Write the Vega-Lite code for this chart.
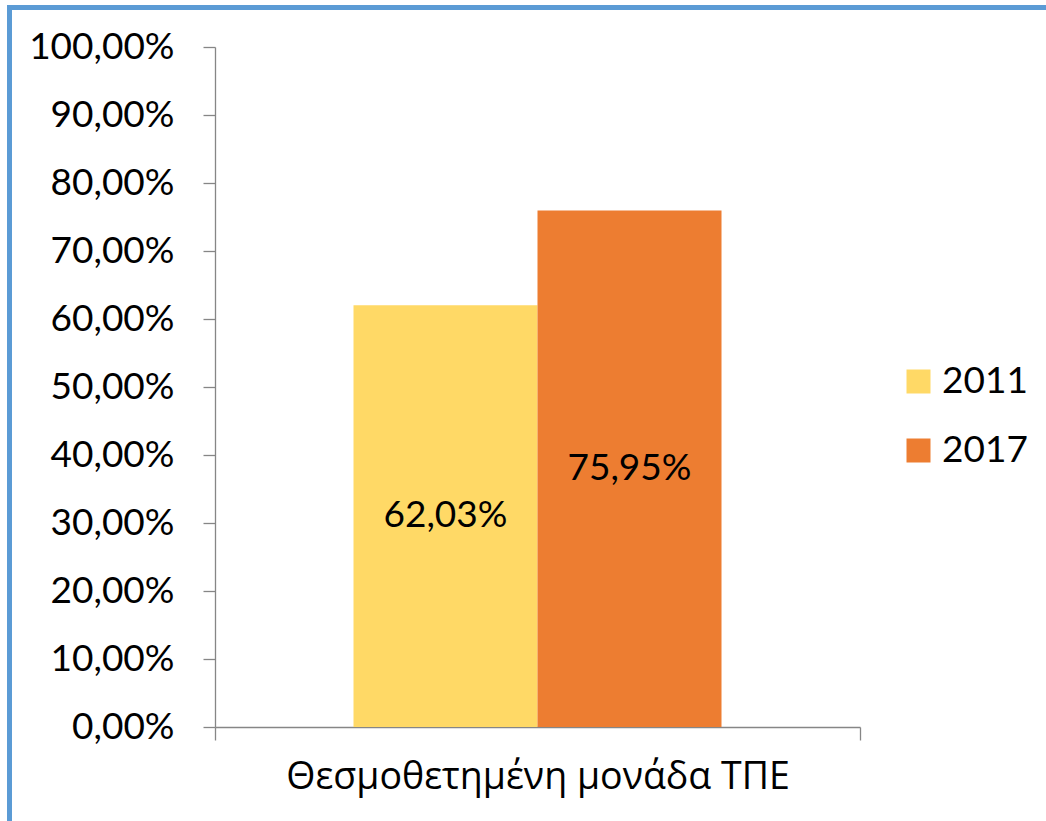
{
  "$schema": "https://vega.github.io/schema/vega-lite/v6.json",
  "width": 645,
  "height": 680,
  "autosize": {"type": "none"},
  "padding": {"left": 215, "top": 47, "right": 186, "bottom": 94},
  "background": "white",
  "config": {
    "locale": {"number": {"decimal": ",", "thousands": ".", "grouping": [3], "currency": ["", " €"]}},
    "view": {"stroke": null},
    "font": "Lato"
  },
  "data": {"values": [
    {"category": "Θεσμοθετημένη μονάδα ΤΠΕ", "year": "2011", "value": 0.6203},
    {"category": "Θεσμοθετημένη μονάδα ΤΠΕ", "year": "2017", "value": 0.7595}
  ]},
  "layer": [
    {
      "mark": {"type": "bar"},
      "encoding": {
        "x": {"field": "category", "type": "nominal", "scale": {"paddingInner": 0, "paddingOuter": 0}, "axis": null},
        "xOffset": {"field": "year", "type": "nominal", "scale": {"paddingInner": 0, "paddingOuter": 0.7527}},
        "y": {"field": "value", "type": "quantitative", "scale": {"domain": [0, 1]},
          "axis": {"title": null, "values": [0, 0.1, 0.2, 0.3, 0.4, 0.5, 0.6, 0.7, 0.8, 0.9, 1], "format": ".2%",
            "grid": false, "domainColor": "#868686", "domainWidth": 1.3, "tickColor": "#868686", "tickWidth": 1.3, "tickSize": 12,
            "labelPadding": 29, "labelFontSize": 37, "labelColor": "black", "labelFont": "Lato"}},
        "color": {"field": "year", "type": "nominal",
          "scale": {"domain": ["2011", "2017"], "range": ["#FFD966", "#ED7D31"]},
          "legend": {"orient": "none", "legendX": 685, "legendY": 316, "title": null, "symbolType": "square",
            "symbolSize": 576, "symbolStrokeWidth": 0, "labelFontSize": 37, "labelColor": "black", "labelOffset": 5,
            "rowPadding": 31, "padding": 0, "labelFont": "Lato"}}
      }
    },
    {
      "transform": [{"calculate": "datum.value / 2", "as": "mid"}],
      "mark": {"type": "text", "fontSize": 37, "color": "black", "font": "Lato"},
      "encoding": {
        "x": {"field": "category", "type": "nominal", "scale": {"paddingInner": 0, "paddingOuter": 0}, "axis": null},
        "xOffset": {"field": "year", "type": "nominal", "scale": {"paddingInner": 0, "paddingOuter": 0.7527}},
        "y": {"field": "mid", "type": "quantitative"},
        "text": {"field": "value", "type": "quantitative", "format": ".2%"}
      }
    },
    {
      "data": {"values": [{}]},
      "mark": {"type": "rect", "fill": "transparent", "stroke": "#5B9BD5", "strokeWidth": 5, "clip": false},
      "encoding": {
        "x": {"datum": -0.3186, "type": "quantitative", "scale": {"domain": [0, 1]},
          "axis": {"values": [0, 1], "labels": false, "grid": false, "title": "Θεσμοθετημένη μονάδα ΤΠΕ",
            "domainColor": "#868686", "domainWidth": 1.3, "tickColor": "#868686", "tickWidth": 1.3, "tickSize": 13,
            "titleFontSize": 37.5, "titleFont": "Open Sans", "titleFontWeight": "normal", "titleColor": "black", "titlePadding": 18}},
        "x2": {"datum": 1.6},
        "y": {"datum": 1.0581, "type": "quantitative"},
        "y2": {"datum": -0.3}
      }
    }
  ],
  "resolve": {"scale": {"x": "independent"}}
}
